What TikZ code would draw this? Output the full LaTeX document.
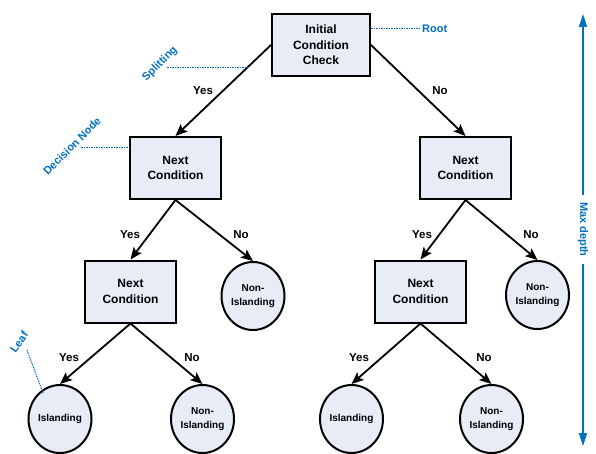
\documentclass[tikz,border=0pt]{standalone}
\usepackage{fontspec}
\setmainfont{Liberation Sans}
\usetikzlibrary{arrows.meta,shapes.geometric}
\definecolor{boxfill}{RGB}{231,236,247}
\definecolor{annblue}{RGB}{0,112,192}
\tikzset{
  cbox/.style={draw=black, line width=2pt, fill=boxfill, minimum width=91pt, minimum height=62pt, inner sep=0pt, align=center, font=\fontsize{12}{15.5}\selectfont\bfseries},
  leaf/.style={ellipse, draw=black, line width=2pt, fill=boxfill, minimum width=63pt, minimum height=68pt, inner sep=0pt, align=center, font=\fontsize{10}{14}\selectfont\bfseries},
  arr/.style={-{Stealth[length=12pt,width=10pt,inset=2.5pt]}, line width=1.8pt, black},
  lbl/.style={font=\fontsize{11.5}{13}\selectfont\bfseries, text=black},
  ann/.style={font=\fontsize{11}{13}\selectfont\bfseries, text=annblue},
  annline/.style={draw=annblue, line width=1pt, dash pattern=on 1.5pt off 1pt},
}
\begin{document}
\begin{tikzpicture}[x=1pt,y=-1pt]
\useasboundingbox (0,0) rectangle (596,454);
% nodes
\node[cbox, minimum width=98pt] (root) at (321,45) {Initial\\Condition\\Check};
\node[cbox] (l1) at (175.5,168) {Next\\Condition};
\node[cbox] (r1) at (465.5,168) {Next\\Condition};
\node[cbox] (l2) at (130.5,291.5) {Next\\Condition};
\node[cbox] (r2) at (420.5,291.5) {Next\\Condition};
\node[leaf] (ni1) at (253,296) {Non-\\Islanding};
\node[leaf] (ni2) at (537.5,295) {Non-\\Islanding};
\node[leaf] (lf1) at (60,419) {Islanding};
\node[leaf] (lf2) at (202.5,419) {Non-\\Islanding};
\node[leaf] (lf3) at (351.5,419) {Islanding};
\node[leaf] (lf4) at (491.5,419) {Non-\\Islanding};
% connectors
\draw[arr] (root.west) -- (l1.north);
\draw[arr] (root.east) -- (r1.north);
\draw[arr] (l1.south) -- (l2.north);
\draw[arr] (l1.south) -- (ni1.north);
\draw[arr] (r1.south) -- (r2.north);
\draw[arr] (r1.south) -- (ni2.north);
\draw[arr] (l2.south) -- (lf1.north);
\draw[arr] (l2.south) -- (lf2.north);
\draw[arr] (r2.south) -- (lf3.north);
\draw[arr] (r2.south) -- (lf4.north);
% labels
\node[lbl] (y0) at (203,91) {Yes};
\node[lbl] (n0) at (440,91) {No};
\node[lbl] (y1) at (130,235) {Yes};
\node[lbl] (n1) at (241,235) {No};
\node[lbl] (y2) at (422,235) {Yes};
\node[lbl] (n2) at (531,235) {No};
\node[lbl] (y3) at (69,358) {Yes};
\node[lbl] (n3) at (192,358) {No};
\node[lbl] (y4) at (359,358) {Yes};
\node[lbl] (n4) at (484,358) {No};
% annotations
\node[ann, anchor=west, inner sep=1pt] (rootlbl) at (421,29) {Root};
\draw[annline] (root.east |- rootlbl.west) -- (rootlbl.west);
\node[ann, rotate=45] (split) at (160,64) {Splitting};
\coordinate (splitend) at (249,68);
\draw[annline] (167,68) -- (splitend);
\node[ann, rotate=45] (dec) at (72,146) {Decision Node};
\draw[annline] (81,148) -- (l1.west |- 0,148);
\node[ann, rotate=55] (leaflbl) at (19,342) {Leaf};
\coordinate (leafpt) at (43,393);
\draw[annline] (27,350) -- (leafpt);
% max depth
\node[ann, rotate=-90, inner sep=7pt] (md) at (583,229.5) {Max depth};
\coordinate (mdtop) at (583,14);
\coordinate (mdbot) at (583,446);
\draw[annblue, line width=1.5pt, -{Triangle[length=13pt,width=8pt]}] (md.west) -- (mdtop);
\draw[annblue, line width=1.5pt, -{Triangle[length=13pt,width=8pt]}] (md.east) -- (mdbot);
\end{tikzpicture}
\end{document}
